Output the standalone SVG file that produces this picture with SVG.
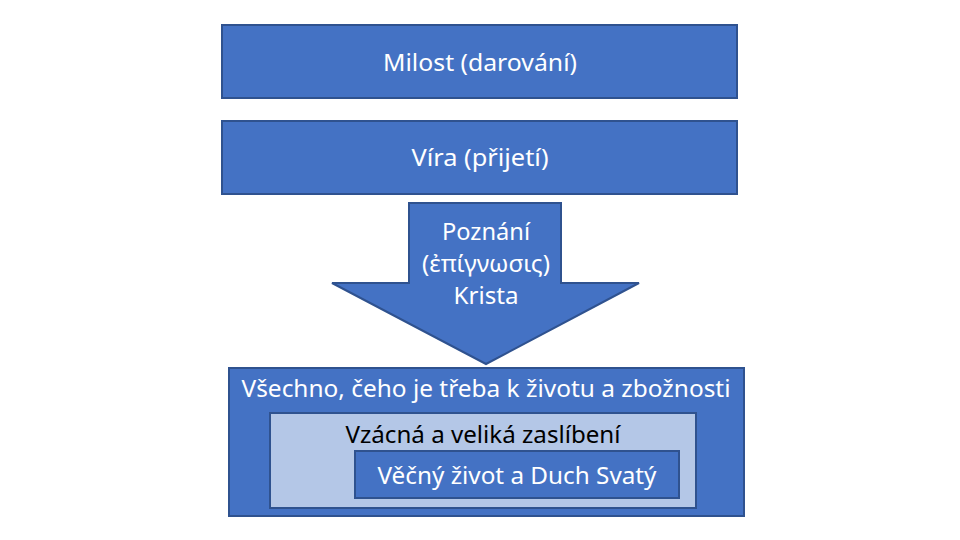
<svg xmlns="http://www.w3.org/2000/svg" width="960" height="540" viewBox="0 0 960 540">
<style>
.box{fill:#4472C4;stroke:#2F528F;stroke-width:2}
.light{fill:#B4C7E7;stroke:#2F528F;stroke-width:2}
text{font-family:"Noto Sans","Open Sans","DejaVu Sans",sans-serif;font-size:24px;text-anchor:middle}
.w{fill:#FFFFFF}
.k{fill:#000000}
</style>
<rect width="960" height="540" fill="#FFFFFF"/>
<g id="milost">
<rect class="box" x="222" y="25" width="515" height="73"/>
<text class="w" x="480" y="71" textLength="194" lengthAdjust="spacingAndGlyphs">Milost (darování)</text>
</g>
<g id="vira">
<rect class="box" x="222" y="121" width="515" height="73"/>
<text class="w" x="480" y="166" textLength="137" lengthAdjust="spacingAndGlyphs">Víra (přijetí)</text>
</g>
<g id="poznani">
<polygon class="box" points="409,203 561,203 561,283 639,283 486,364 332,283 409,283"/>
<text class="w" x="486" y="240" textLength="88" lengthAdjust="spacingAndGlyphs">Poznání</text>
<text class="w" x="486" y="272" textLength="128" lengthAdjust="spacingAndGlyphs">(ἐπίγνωσις)</text>
<text class="w" x="486" y="304" textLength="65" lengthAdjust="spacingAndGlyphs">Krista</text>
</g>
<g id="vsechno">
<rect class="box" x="229" y="368" width="515" height="148"/>
<text class="w" x="486" y="397" textLength="489" lengthAdjust="spacingAndGlyphs">Všechno, čeho je třeba k životu a zbožnosti</text>
</g>
<g id="zasliben">
<rect class="light" x="270" y="413" width="426" height="95"/>
<text class="k" x="483" y="443" textLength="275" lengthAdjust="spacingAndGlyphs">Vzácná a veliká zaslíbení</text>
</g>
<g id="zivot">
<rect class="box" x="355" y="451" width="324" height="47"/>
<text class="w" x="517" y="484" textLength="279" lengthAdjust="spacingAndGlyphs">Věčný život a Duch Svatý</text>
</g>
<g id="connectors"></g>
</svg>
